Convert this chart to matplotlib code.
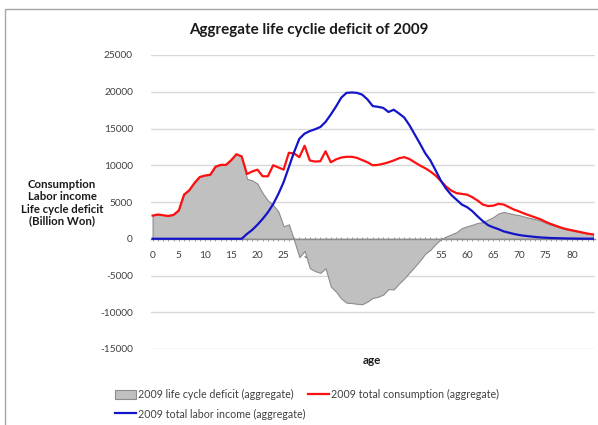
import matplotlib
matplotlib.use("Agg")
import matplotlib.pyplot as plt
from matplotlib.patches import Rectangle, Patch
from matplotlib.lines import Line2D

ages = list(range(0, 85))

consumption = [
    3150, 3300, 3200, 3100, 3250, 3850, 6000, 6600, 7600, 8400,
    8600, 8700, 9800, 10050, 10050, 10700, 11500, 11200, 8800, 9150,
    9400, 8500, 8500, 10000, 9700, 9400, 11700, 11600, 11100, 12650,
    10650, 10500, 10550, 11900, 10400, 10800, 11050, 11150, 11150, 11000,
    10700, 10400, 10000, 10050, 10200, 10400, 10650, 10950, 11100, 10850,
    10400, 9970, 9600, 9150, 8600, 7850, 7100, 6550, 6200, 6100,
    6000, 5650, 5200, 4650, 4450, 4500, 4750, 4650, 4300, 3950,
    3700, 3400, 3150, 2900, 2650, 2300, 2000, 1750, 1500, 1300,
    1150, 1000, 850, 700, 600,
]

labor_income = [
    0, 0, 0, 0, 0, 0, 0, 0, 0, 0,
    0, 0, 0, 0, 0, 0, 0, 0, 650, 1200,
    1900, 2700, 3600, 4700, 6100, 7700, 9750, 11800, 13600, 14300,
    14650, 14900, 15200, 15900, 16900, 18000, 19200, 19850, 19900, 19850,
    19600, 18950, 18050, 17950, 17800, 17250, 17550, 17050, 16500, 15450,
    14200, 12950, 11650, 10650, 9300, 7900, 6800, 5950, 5300, 4650,
    4300, 3750, 3050, 2400, 1850, 1550, 1300, 1000, 820, 640,
    500, 400, 320, 240, 180, 140, 100, 80, 60, 40,
    30, 20, 10, 10, 0,
]

life_cycle_deficit = [
    3150, 3300, 3200, 3100, 3250, 3850, 6000, 6600, 7600, 8400,
    8600, 8700, 9800, 10050, 10050, 10700, 11500, 11200, 8150, 7950,
    7500, 6200, 5200, 4600, 3700, 1700, 1950, -200, -2500, -1650,
    -4000, -4400, -4650, -4000, -6500, -7200, -8150, -8700, -8750, -8850,
    -8900, -8550, -8050, -7900, -7600, -6850, -6900, -6100, -5400, -4600,
    -3800, -2980, -2050, -1500, -700, -50, 300, 600, 900, 1450,
    1700, 1900, 2150, 2250, 2600, 2950, 3450, 3650, 3480, 3310,
    3200, 3000, 2830, 2660, 2470, 2160, 1900, 1670, 1440, 1260,
    1120, 980, 840, 690, 600,
]

x_ticks = list(range(0, 85, 5))
y_ticks = list(range(-15000, 25001, 5000))

W, H = 598, 425
fig = plt.figure(figsize=(W / 100, H / 100), dpi=100)
plt.rcParams["font.family"] = ["Lato", "DejaVu Sans"]

# outer chart frame
fig.patches.append(Rectangle((5 / W, -0.01), 1.0, (H - 9) / H + 0.01,
                             transform=fig.transFigure, fill=False,
                             edgecolor="#a6a6a6", linewidth=1.0))

left, right, top, bottom = 151, 595, 55, 349
ax = fig.add_axes([left / W, (H - bottom) / H, (right - left) / W, (bottom - top) / H])

ax.set_xlim(-0.3, 84.4)
ax.set_ylim(-15000, 25000)

for v in y_ticks:
    if v != 0:
        ax.axhline(v, color="#d9d9d9", linewidth=1.0, zorder=0)

ax.fill_between(ages, 0, life_cycle_deficit, facecolor="#c0c0c0",
                edgecolor="#8c8c8c", linewidth=0.8, zorder=2)
ax.plot(ages, consumption, color="#ff1010", linewidth=1.6, zorder=4)
ax.plot(ages, labor_income, color="#1414c8", linewidth=1.6, zorder=5)

for s in ["left", "right", "top"]:
    ax.spines[s].set_visible(False)
ax.spines["bottom"].set_position(("data", 0))
ax.spines["bottom"].set_color("#8c8c8c")
ax.spines["bottom"].set_linewidth(1.0)
ax.spines["bottom"].set_zorder(3)

ax.set_xticks(x_ticks)
ax.set_xticks(ages, minor=True)
ax.tick_params(axis="x", which="both", direction="inout", length=3,
               color="#8c8c8c", width=0.6)
ax.tick_params(axis="x", which="major", labelsize=7.3, labelcolor="#404040", pad=7)
ax.set_yticks(y_ticks)
ax.set_yticklabels([str(v) for v in y_ticks])
ax.tick_params(axis="y", length=0, labelsize=7.3, labelcolor="#404040", pad=13)

fig.text(309 / W, 1 - 30 / H, "Aggregate life cyclie deficit of 2009",
         ha="center", va="center", fontsize=10.9, fontweight="bold", color="#1a1a1a")
fig.text(62 / W, 1 - 203 / H,
         "Consumption\nLabor income\nLife cycle deficit\n(Billion Won)",
         ha="center", va="center", fontsize=8.2, fontweight="bold",
         color="#1a1a1a", linespacing=1.12)
fig.text(372 / W, 1 - 361 / H, "age", ha="center", va="center",
         fontsize=8.5, fontweight="bold", color="#1a1a1a")

handles = [
    Patch(facecolor="#c0c0c0", edgecolor="#8c8c8c", linewidth=0.8),
    Line2D([], [], color="#1414c8", linewidth=1.6),
    Line2D([], [], color="#ff1010", linewidth=1.6),
]
labels = [
    "2009 life cycle deficit (aggregate)",
    "2009 total labor income (aggregate)",
    "2009 total consumption (aggregate)",
]
fig.legend(handles, labels, loc="upper left", bbox_to_anchor=(115 / W, 1 - 389 / H),
           ncol=2, frameon=False, fontsize=7.7, handlelength=2.0,
           handleheight=1.0, handletextpad=0.12, columnspacing=0.25,
           labelspacing=0.8, borderpad=0, borderaxespad=0,
           labelcolor="#404040")

fig.savefig("out.png", dpi=100, facecolor="white")
